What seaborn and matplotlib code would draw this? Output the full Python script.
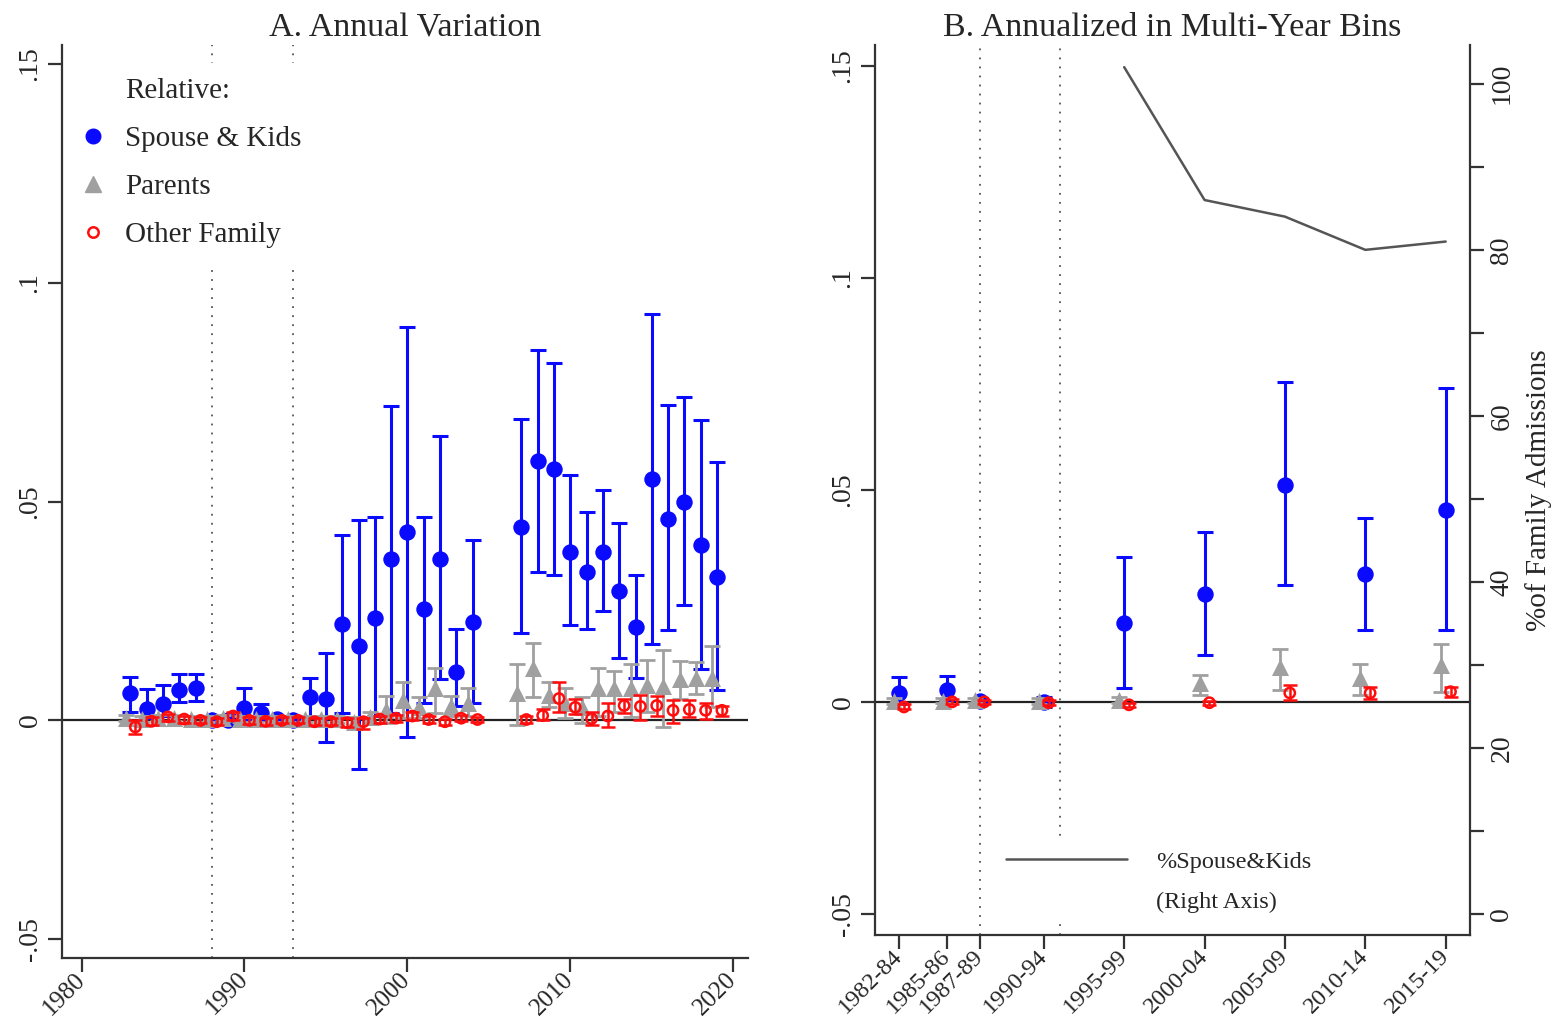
import matplotlib
matplotlib.use("Agg")
import matplotlib.pyplot as plt
import numpy as np
import seaborn as sns
from matplotlib.lines import Line2D

# ---- Panel A: annual estimates ----
years_a = [1983, 1984, 1985, 1986, 1987, 1988, 1989, 1990, 1991, 1992, 1993,
           1994, 1995, 1996, 1997, 1998, 1999, 2000, 2001, 2002, 2003, 2004,
           2007, 2008, 2009, 2010, 2011, 2012, 2013, 2014, 2015, 2016, 2017,
           2018, 2019]

spouse_a = [0.0062, 0.0027, 0.0037, 0.0069, 0.0075, 0.0002, 0.0002, 0.0029, 0.0018, 0.0003, 0.0002,
            0.0053, 0.0050, 0.0220, 0.0171, 0.0233, 0.0370, 0.0430, 0.0254, 0.0370, 0.0110, 0.0224,
            0.0441, 0.0592, 0.0574, 0.0386, 0.0340, 0.0386, 0.0295, 0.0213, 0.0551, 0.0460, 0.0498,
            0.0400, 0.0327]
spouse_a_hi = [0.0100, 0.0071, 0.0080, 0.0107, 0.0107, 0.0010, 0.0012, 0.0075, 0.0038, 0.0010, 0.0010,
               0.0098, 0.0153, 0.0423, 0.0457, 0.0464, 0.0718, 0.0898, 0.0464, 0.0650, 0.0208, 0.0412,
               0.0688, 0.0846, 0.0816, 0.0560, 0.0476, 0.0526, 0.0450, 0.0332, 0.0928, 0.0720, 0.0738,
               0.0686, 0.0590]
spouse_a_lo = [0.0020, 0.0005, 0.0010, 0.0042, 0.0045, -0.0010, -0.0010, 0.0002, 0.0000, -0.0005, -0.0008,
               0.0007, -0.0050, 0.0016, -0.0110, 0.0010, 0.0018, -0.0037, 0.0040, 0.0094, 0.0034, 0.0039,
               0.0200, 0.0340, 0.0332, 0.0217, 0.0210, 0.0250, 0.0142, 0.0098, 0.0174, 0.0206, 0.0263,
               0.0117, 0.0069]

parents_a = [0.0005, 0.0004, 0.0005, 0.0005, 0.0004, 0.0003, 0.0005, 0.0004, 0.0004, 0.0003, 0.0003,
             0.0004, 0.0003, 0.0003, -0.0003, 0.0007, 0.0023, 0.0046, 0.0030, 0.0075, 0.0034, 0.0040,
             0.0062, 0.0119, 0.0057, 0.0040, 0.0030, 0.0073, 0.0073, 0.0073, 0.0080, 0.0078, 0.0094,
             0.0096, 0.0098]
parents_a_hi = [0.0012, 0.0011, 0.0012, 0.0012, 0.0011, 0.0010, 0.0012, 0.0011, 0.0011, 0.0010, 0.0010,
                0.0011, 0.0010, 0.0010, 0.0008, 0.0020, 0.0055, 0.0087, 0.0053, 0.0120, 0.0055, 0.0075,
                0.0128, 0.0178, 0.0087, 0.0075, 0.0053, 0.0119, 0.0112, 0.0128, 0.0139, 0.0162, 0.0135,
                0.0133, 0.0171]
parents_a_lo = [-0.0002, -0.0003, -0.0002, -0.0002, -0.0003, -0.0004, -0.0002, -0.0003, -0.0003, -0.0004, -0.0004,
                -0.0003, -0.0004, -0.0005, -0.0015, -0.0005, -0.0005, 0.0005, 0.0005, 0.0016, 0.0010, 0.0010,
                -0.0010, 0.0053, 0.0030, 0.0005, -0.0007, 0.0011, 0.0020, 0.0007, 0.0020, -0.0014, 0.0050,
                0.0060, 0.0030]

other_a = [-0.0015, -0.0002, 0.0008, 0.0003, 0.0000, -0.0003, 0.0010, 0.0000, -0.0002, 0.0000, 0.0000,
           -0.0003, -0.0003, -0.0005, -0.0003, 0.0003, 0.0005, 0.0010, 0.0002, -0.0003, 0.0005, 0.0002,
           0.0002, 0.0011, 0.0050, 0.0030, 0.0004, 0.0010, 0.0034, 0.0032, 0.0034, 0.0023, 0.0025,
           0.0023, 0.0023]
other_a_hi = [0.0000, 0.0008, 0.0015, 0.0010, 0.0007, 0.0005, 0.0020, 0.0008, 0.0005, 0.0007, 0.0007,
              0.0005, 0.0005, 0.0005, 0.0005, 0.0010, 0.0012, 0.0020, 0.0009, 0.0004, 0.0012, 0.0008,
              0.0010, 0.0025, 0.0087, 0.0048, 0.0020, 0.0039, 0.0050, 0.0057, 0.0055, 0.0046, 0.0046,
              0.0040, 0.0034]
other_a_lo = [-0.0030, -0.0010, -0.0002, -0.0005, -0.0007, -0.0010, 0.0000, -0.0008, -0.0010, -0.0007, -0.0007,
              -0.0010, -0.0010, -0.0015, -0.0020, -0.0005, -0.0003, 0.0000, -0.0005, -0.0010, -0.0002, -0.0004,
              -0.0005, 0.0000, 0.0020, 0.0015, -0.0010, -0.0014, 0.0016, 0.0002, 0.0010, -0.0005, 0.0007,
              0.0004, 0.0011]

# ---- Panel B: multi-year bins ----
bins_b = ['1982-84', '1985-86', '1987-89', '1990-94', '1995-99',
          '2000-04', '2005-09', '2010-14', '2015-19']
bin_year_b = [1983, 1986, 1988, 1992, 1997, 2002, 2007, 2012, 2017]

spouse_b = [0.0021, 0.0028, 0.0003, 0.0000, 0.0186, 0.0255, 0.0512, 0.0302, 0.0453]
spouse_b_hi = [0.0059, 0.0061, 0.0010, 0.0012, 0.0342, 0.0400, 0.0755, 0.0434, 0.0740]
spouse_b_lo = [-0.0005, 0.0005, -0.0005, -0.0012, 0.0033, 0.0110, 0.0276, 0.0170, 0.0170]

parents_b = [0.0002, 0.0003, 0.0004, 0.0002, 0.0005, 0.0045, 0.0083, 0.0057, 0.0087]
parents_b_hi = [0.0008, 0.0009, 0.0010, 0.0008, 0.0012, 0.0064, 0.0125, 0.0090, 0.0137]
parents_b_lo = [-0.0004, -0.0003, -0.0002, -0.0004, -0.0002, 0.0017, 0.0028, 0.0017, 0.0024]

other_b = [-0.0012, 0.0000, 0.0000, -0.0002, -0.0007, -0.0002, 0.0021, 0.0021, 0.0024]
other_b_hi = [-0.0005, 0.0006, 0.0005, 0.0004, -0.0002, 0.0003, 0.0040, 0.0035, 0.0035]
other_b_lo = [-0.0018, -0.0006, -0.0005, -0.0008, -0.0012, -0.0007, 0.0005, 0.0007, 0.0012]

share_years_b = [1997, 2002, 2007, 2012, 2017]
share_spouse_b = [102.0, 86.0, 84.0, 80.0, 81.0]

break_years = [1988, 1993]

yticks_left = [-0.05, 0, 0.05, 0.1, 0.15]
yticklabels_left = ['-.05', '0', '.05', '.1', '.15']
xticks_a = [1980, 1990, 2000, 2010, 2020]
yticks_right = [0, 20, 40, 60, 80, 100]
yticks_right_minor = [10, 30, 50, 70, 90]

BLUE = '#0a0aff'
GREY = '#a0a0a0'
RED = '#ff0d0d'
AXC = '#333333'

sns.set_style('white')
plt.rcParams['font.family'] = ['Liberation Serif', 'DejaVu Serif']

fig = plt.figure(figsize=(15.57, 10.21), dpi=100)
ax_a = fig.add_axes([0.0398, 0.0617, 0.4406, 0.894])
ax_b = fig.add_axes([0.562, 0.0842, 0.382, 0.872])


def draw_series(ax, x, y, hi, lo, color, marker, size, cap, lw, hollow=False, z=3):
    x = np.asarray(x, dtype=float)
    y = np.asarray(y)
    err = [y - np.asarray(lo), np.asarray(hi) - y]
    ax.errorbar(x, y, yerr=err, fmt='none', ecolor=color, elinewidth=lw,
                capsize=cap, capthick=lw, zorder=z)
    if hollow:
        sns.scatterplot(x=x, y=y, ax=ax, marker=marker, s=size, facecolors='none',
                        edgecolor=color, linewidth=1.8, zorder=z + 0.5)
    else:
        sns.scatterplot(x=x, y=y, ax=ax, marker=marker, s=size, color=color,
                        edgecolor=color, linewidth=0, zorder=z + 0.5)


def style_axes(ax, xsize):
    for s in ['top', 'right']:
        ax.spines[s].set_visible(False)
    for s in ['left', 'bottom']:
        ax.spines[s].set_color(AXC)
        ax.spines[s].set_linewidth(1.6)
    ax.tick_params(axis='both', direction='out', length=10, width=1.6,
                   color=AXC, bottom=True, left=True)
    ax.tick_params(axis='x', labelsize=xsize, pad=3)
    ax.tick_params(axis='y', labelsize=20, pad=4)
    ax.set_yticks(yticks_left)
    ax.set_yticklabels(yticklabels_left, rotation=90, va='center')
    ax.grid(False)


off = 0.3

# Panel A
style_axes(ax_a, 18)
for bx in break_years:
    ax_a.axvline(bx, color='#555555', linestyle=(0, (1, 4)), linewidth=1.3, zorder=1)
ax_a.axhline(0, color='#222222', linewidth=1.6, zorder=2)
draw_series(ax_a, years_a, spouse_a, spouse_a_hi, spouse_a_lo, BLUE, 'o', 140, 6, 2.2, z=3)
draw_series(ax_a, np.array(years_a) - off, parents_a, parents_a_hi, parents_a_lo, GREY, '^', 150, 5.5, 2.0, z=5)
draw_series(ax_a, np.array(years_a) + off, other_a, other_a_hi, other_a_lo, RED, 'o', 55, 5, 1.8, hollow=True, z=7)
ax_a.set_xlim(1978.8, 2020.9)
ax_a.set_ylim(-0.0543, 0.1543)
ax_a.set_xticks(xticks_a)
ax_a.set_xticklabels([str(t) for t in xticks_a], rotation=45, ha='right',
                     va='center', rotation_mode='anchor')
ax_a.set_title('A. Annual Variation', fontsize=24.5, pad=6)

handles_a = [
    Line2D([], [], linestyle='none'),
    Line2D([], [], marker='o', linestyle='none', color=BLUE, markersize=10.5),
    Line2D([], [], marker='^', linestyle='none', color=GREY, markersize=11),
    Line2D([], [], marker='o', linestyle='none', markerfacecolor='none',
           markeredgecolor=RED, markeredgewidth=1.8, markersize=7.5),
]
leg_a = ax_a.legend(handles_a, ['Relative:', 'Spouse & Kids', 'Parents', 'Other Family'],
                    loc='upper left', bbox_to_anchor=(-0.018, 0.996),
                    fontsize=21, frameon=True, facecolor='white',
                    edgecolor='none', framealpha=1, handletextpad=0.6,
                    labelspacing=0.74, borderpad=0.5, handlelength=1.0)
leg_a.set_zorder(10)

# Panel B
style_axes(ax_b, 17.5)
for bx in break_years:
    ax_b.axvline(bx, color='#555555', linestyle=(0, (1, 4)), linewidth=1.3, zorder=1)
ax_b.axhline(0, color='#222222', linewidth=1.6, zorder=2)
draw_series(ax_b, bin_year_b, spouse_b, spouse_b_hi, spouse_b_lo, BLUE, 'o', 140, 6, 2.2, z=3)
draw_series(ax_b, np.array(bin_year_b) - off, parents_b, parents_b_hi, parents_b_lo, GREY, '^', 150, 5.5, 2.0, z=5)
draw_series(ax_b, np.array(bin_year_b) + off, other_b, other_b_hi, other_b_lo, RED, 'o', 55, 5, 1.8, hollow=True, z=7)
ax_b.set_xlim(1981.5, 2018.5)
ax_b.set_ylim(-0.055, 0.155)
ax_b.set_xticks(bin_year_b)
ax_b.set_xticklabels(bins_b, rotation=45, ha='right', va='center', rotation_mode='anchor')
ax_b.set_title('B. Annualized in Multi-Year Bins', fontsize=24.5, pad=6)

ax_r = ax_b.twinx()
sns.lineplot(x=share_years_b, y=share_spouse_b, ax=ax_r, color='#555555',
             linewidth=1.8, zorder=4)
ax_r.set_ylim(-2.5, 104.7)
ax_r.set_yticks(yticks_right)
ax_r.set_yticks(yticks_right_minor, minor=True)
ax_r.set_yticklabels([str(t) for t in yticks_right], rotation=90, va='center')
ax_r.tick_params(axis='y', which='both', direction='out', length=10, width=1.6,
                 color=AXC, labelsize=20, right=True, pad=4)
ax_r.set_ylabel('%of Family Admissions', fontsize=21, labelpad=8)
for s in ['top', 'left', 'bottom']:
    ax_r.spines[s].set_visible(False)
ax_r.spines['right'].set_color(AXC)
ax_r.spines['right'].set_linewidth(1.6)
ax_r.grid(False)

handles_b = [Line2D([], [], color='#555555', linewidth=1.8),
             Line2D([], [], linestyle='none')]
leg_b = ax_r.legend(handles_b, ['%Spouse&Kids', '(Right Axis)'], loc='lower center',
                    bbox_to_anchor=(0.477, 0.0), fontsize=17.5, frameon=True,
                    facecolor='white', edgecolor='none', framealpha=1,
                    handlelength=5, handletextpad=1.2, labelspacing=0.75)
leg_b.set_zorder(10)

fig.savefig('out.png', dpi=100)
